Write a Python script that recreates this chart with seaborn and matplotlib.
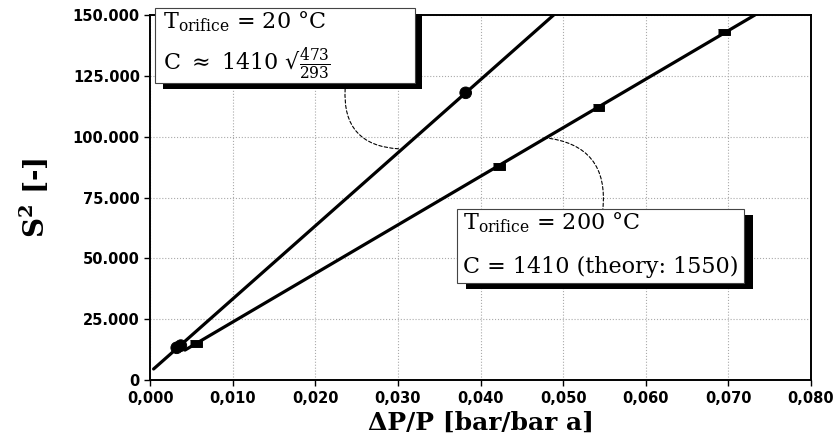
import numpy as np
import pandas as pd

import seaborn as sns
import matplotlib.pyplot as plt
from matplotlib.patches import Rectangle
from matplotlib.ticker import FuncFormatter, MultipleLocator

# measured points, orifice at 20 C (circles) and 200 C (bars)
dp_20 = [0.0032, 0.0037, 0.0382]
s2_20 = [13300, 14200, 118000]
dp_200 = [0.0055, 0.0422, 0.0543, 0.0695]
s2_200 = [15200, 87700, 111900, 143000]

# x range over which each fit line is drawn
fit_range_20 = [0.0004, 0.050]
fit_range_200 = [0.0042, 0.075]

box_20 = [r'T$_{\mathrm{orifice}}$ = 20 $\degree$C',
          r'C $\approx$ 1410 √$\frac{473}{293}$']
box_200 = [r'T$_{\mathrm{orifice}}$ = 200 $\degree$C',
           'C = 1410 (theory: 1550)']

sns.set_theme(style='ticks')
plt.rcParams['font.family'] = ['DejaVu Serif', 'Liberation Serif']
plt.rcParams['mathtext.fontset'] = 'dejavuserif'
for key in ['text.color', 'axes.labelcolor', 'xtick.color', 'ytick.color']:
    plt.rcParams[key] = 'black'

points = pd.concat([
    pd.DataFrame({'dp': dp_20, 's2': s2_20, 'T': '20'}),
    pd.DataFrame({'dp': dp_200, 's2': s2_200, 'T': '200'}),
])

fits = []
for T, xs, ys, rng in [('20', dp_20, s2_20, fit_range_20),
                       ('200', dp_200, s2_200, fit_range_200)]:
    k, d = np.polyfit(xs, ys, 1)
    xl = np.linspace(rng[0], rng[1], 50)
    fits.append(pd.DataFrame({'dp': xl, 's2': k * xl + d, 'T': T}))
fits = pd.concat(fits)

fig = plt.figure(figsize=(8.35, 4.38), dpi=100)
ax = fig.add_axes([0.18, 0.132, 0.791, 0.834])

sns.lineplot(data=fits, x='dp', y='s2', units='T', estimator=None,
             color='black', linewidth=2.3, ax=ax, zorder=3)

bar = [(-1.7, -1), (1.7, -1), (1.7, 1), (-1.7, 1)]
sns.scatterplot(data=points, x='dp', y='s2', style='T',
                markers={'20': 'o', '200': bar}, color='black',
                s=70, edgecolor='black', legend=False, ax=ax, zorder=4)

ax.set_xlim(0, 0.08)
ax.set_ylim(0, 150000)
ax.xaxis.set_major_locator(MultipleLocator(0.01))
ax.yaxis.set_major_locator(MultipleLocator(25000))
ax.xaxis.set_major_formatter(
    FuncFormatter(lambda v, p: f'{v:.3f}'.replace('.', ',')))
ax.yaxis.set_major_formatter(
    FuncFormatter(lambda v, p: f'{v:,.0f}'.replace(',', '.')))

ax.grid(True, color='#aaaaaa', linestyle=':', linewidth=0.8)
for s in ax.spines.values():
    s.set_color('black')
    s.set_linewidth(1.4)
ax.tick_params(direction='out', length=4, width=1, color='black')
for lab in ax.get_xticklabels() + ax.get_yticklabels():
    lab.set_family('DejaVu Sans')
    lab.set_fontweight('bold')
    lab.set_fontsize(10.5)

ax.set_xlabel('ΔP/P [bar/bar a]', fontsize=18, fontweight='bold', labelpad=4)
ax.set_ylabel(r'S$^{\mathbf{2}}$ [-]', fontsize=20, fontweight='bold',
              labelpad=16)

# annotation boxes with drop shadow
for (x0, y0, w, h, sx, sy) in [(0.0076, 0.814, 0.393, 0.2055, 0.011, -0.016),
                               (0.4644, 0.2658, 0.434, 0.2027, 0.0136, -0.017)]:
    ax.add_patch(Rectangle((x0 + sx, y0 + sy), w, h, transform=ax.transAxes,
                           facecolor='black', edgecolor='none',
                           clip_on=False, zorder=5))
    ax.add_patch(Rectangle((x0, y0), w, h, transform=ax.transAxes,
                           facecolor='white', edgecolor='#444444',
                           linewidth=0.8, clip_on=False, zorder=6))

ax.text(0.0197, 0.981, box_20[0], transform=ax.transAxes, fontsize=16,
        va='center', ha='left', zorder=7)
ax.text(0.0197, 0.866, box_20[1], transform=ax.transAxes, fontsize=16,
        va='center', ha='left', zorder=7)
ax.text(0.4735, 0.430, box_200[0], transform=ax.transAxes, fontsize=16,
        va='center', ha='left', zorder=7)
ax.text(0.4735, 0.3096, box_200[1], transform=ax.transAxes, fontsize=16,
        va='center', ha='left', zorder=7)

# dashed connectors from boxes to lines
ax.annotate('', xy=(0.0301, 95000), xytext=(0.0236, 119700),
            arrowprops=dict(arrowstyle='-', linestyle=(0, (3, 2)),
                            linewidth=0.8, color='black',
                            connectionstyle='arc3,rad=0.5',
                            shrinkA=0, shrinkB=0), zorder=2)
ax.annotate('', xy=(0.0548, 69700), xytext=(0.0477, 99600),
            arrowprops=dict(arrowstyle='-', linestyle=(0, (3, 2)),
                            linewidth=0.8, color='black',
                            connectionstyle='arc3,rad=-0.5',
                            shrinkA=0, shrinkB=0), zorder=2)

fig.savefig('out.png', dpi=100)
